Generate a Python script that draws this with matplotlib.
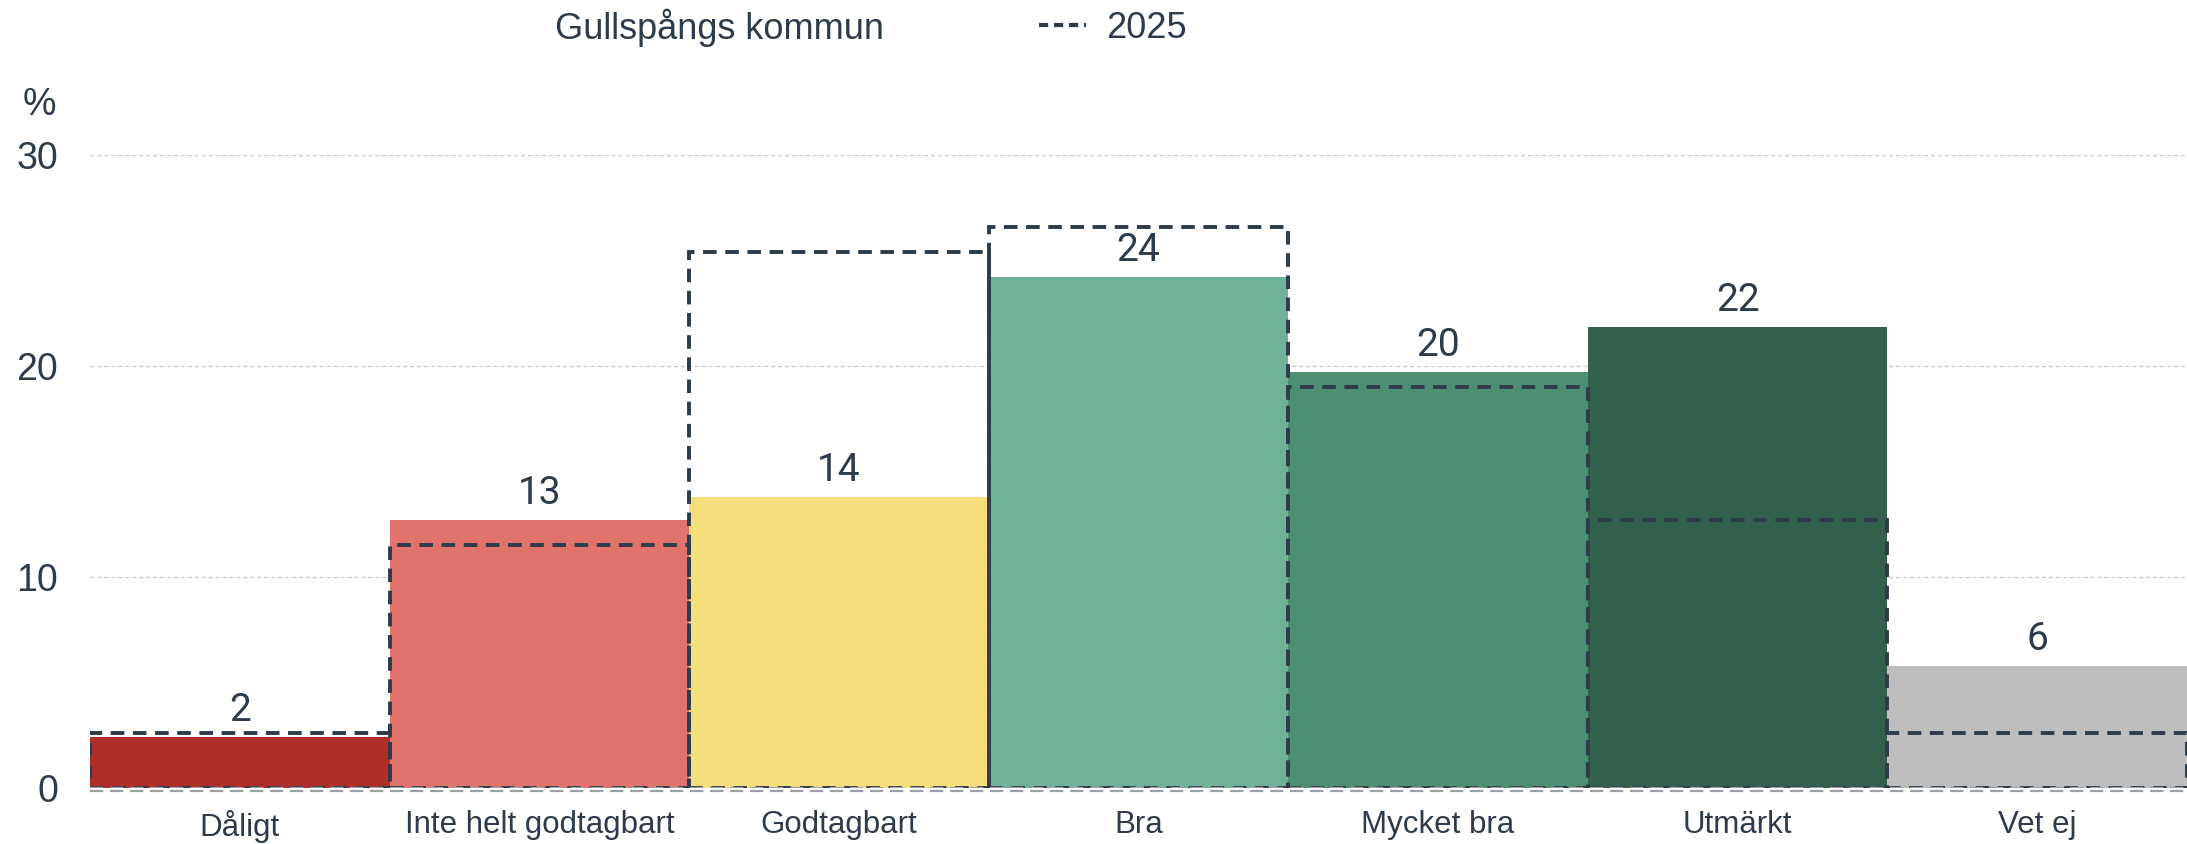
import numpy as np
import matplotlib.pyplot as plt
from matplotlib.lines import Line2D

plt.rcParams['font.family'] = ['Liberation Sans', 'DejaVu Sans']

# data
categories = ['Dåligt', 'Inte helt godtagbart', 'Godtagbart', 'Bra',
              'Mycket bra', 'Utmärkt', 'Vet ej']
values = [2.4, 12.7, 13.8, 24.2, 19.7, 21.85, 5.8]
labels = ['2', '13', '14', '24', '20', '22', '6']
values_2025 = [2.6, 11.5, 25.4, 26.6, 19.0, 12.7, 2.6]
colors = ['#b02e27', '#e0746c', '#f5df7b', '#6fb297', '#4d8f72', '#335f4d', '#bebebe']

text_col = '#2e3b4a'

fig = plt.figure(figsize=(21.87, 8.44), dpi=100)
ax = fig.add_axes([0.0412, 0.0664, 0.9588, 0.75])

x = np.arange(len(categories))
ax.bar(x, values, width=1.0, color=colors, zorder=2)

# 2025 outlines
ax.bar(x, values_2025, width=1.0, fill=False, edgecolor=text_col,
       linestyle=(0, (3.5, 2.2)), linewidth=2.8, zorder=3)

for xi, v, lab in zip(x, values, labels):
    ax.annotate(lab, (xi, v), xytext=(0, 19), textcoords='offset points',
                ha='center', va='center', fontsize=28, color=text_col,
                family='Roboto', zorder=5,
                bbox=dict(facecolor='white', edgecolor='none', pad=1))

# gridlines
for g in [10, 20, 30]:
    ax.axhline(g, color='#cccccc', linestyle=(0, (3, 2)), linewidth=1, zorder=1)
ax.axhline(0, color='#9aa0a6', linestyle=(0, (6, 3)), linewidth=1.6, zorder=4)
ax.axhline(-0.15, color='#9aa0a6', linestyle=(0, (6, 3)), linewidth=1.6, zorder=4, clip_on=False)

ax.set_xlim(-0.5, 6.5)
ax.set_ylim(0, 30)
ax.set_yticks([0, 10, 20, 30])
ax.set_xticks(x)
ax.set_xticklabels(categories)
ax.tick_params(axis='x', length=0, pad=16, labelsize=22.5, labelcolor=text_col)
ax.tick_params(axis='y', length=0, pad=23, labelsize=27, labelcolor=text_col)
for s in ax.spines.values():
    s.set_visible(False)

fig.text(39 / 2187, 1 - 105 / 844, '%', fontsize=27, color=text_col, ha='center', va='center')

# legend-ish header
fig.text(555 / 2187, 1 - 28 / 844, 'Gullspångs kommun', fontsize=26, color=text_col,
         ha='left', va='center')
handle = Line2D([], [], color=text_col, linestyle=(0, (2.2, 1.4)), linewidth=3)
fig.legend([handle], ['2025'], loc='center left', bbox_to_anchor=(1039 / 2187, 1 - 28 / 844),
           frameon=False, fontsize=26, labelcolor=text_col, handlelength=1.3,
           handletextpad=0.55, borderpad=0, borderaxespad=0)

fig.savefig('out.png', dpi=100)
